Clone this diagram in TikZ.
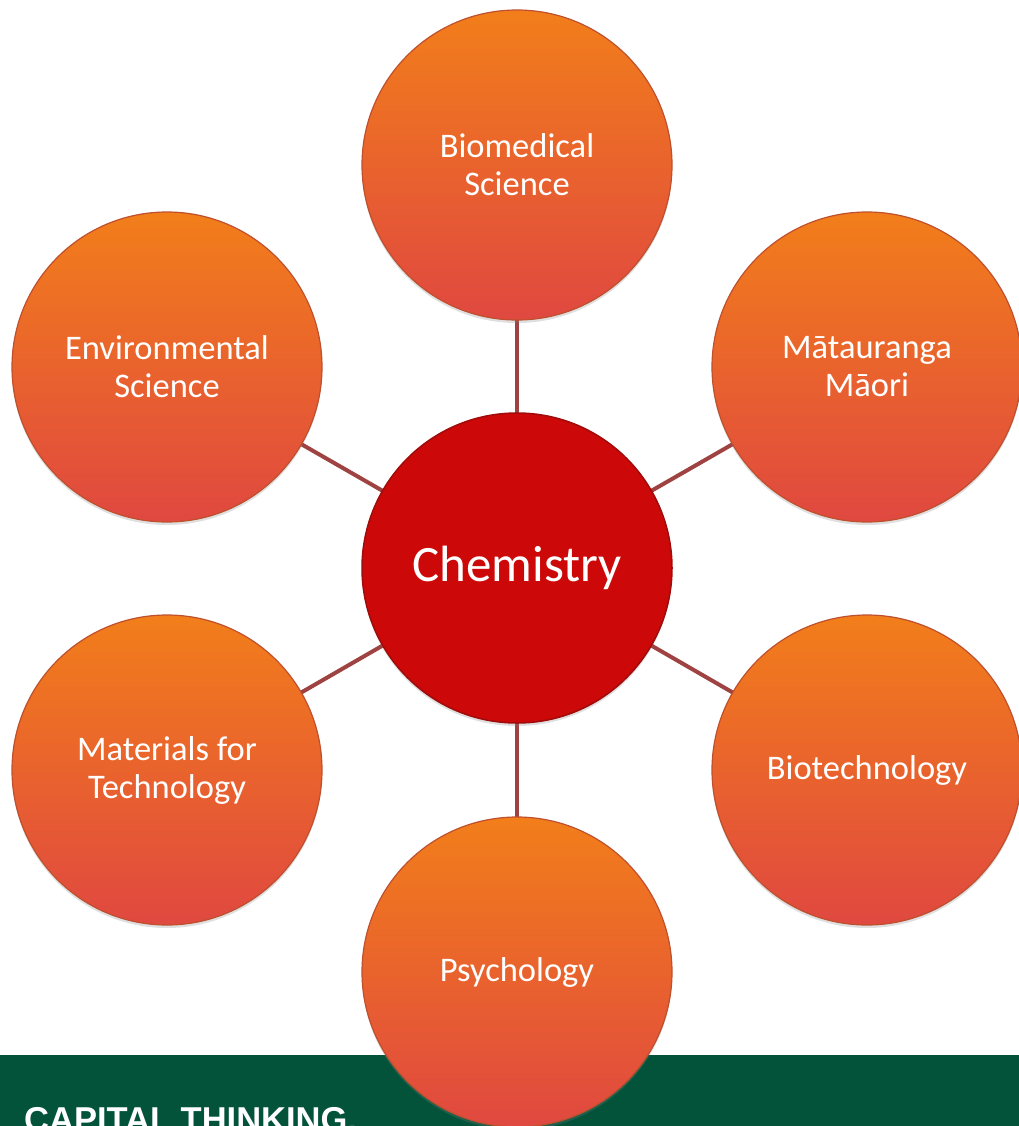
\documentclass[tikz,border=0pt]{standalone}
\usepackage{fontspec}
\setmainfont{Carlito}
\newfontfamily\bandfont{Liberation Sans}
\usetikzlibrary{shadows}
\definecolor{topic top}{RGB}{242,126,26}
\definecolor{topic bottom}{RGB}{224,72,64}
\definecolor{topic rim}{RGB}{190,80,46}
\definecolor{core fill}{RGB}{204,8,8}
\definecolor{core rim}{RGB}{160,12,12}
\definecolor{link}{RGB}{158,66,66}
\definecolor{band}{RGB}{2,83,58}
\tikzset{
  topic/.style={circle, minimum size=310pt, inner sep=0pt,
    top color=topic top, bottom color=topic bottom,
    draw=topic rim, line width=1.2pt,
    drop shadow={opacity=0.25, shadow xshift=0pt, shadow yshift=-3pt},
    text=white, align=center, font=\fontsize{34.5}{38}\selectfont},
  core/.style={circle, minimum size=310pt, inner sep=0pt,
    fill=core fill, draw=core rim, line width=1.5pt,
    drop shadow={opacity=0.25, shadow xshift=0pt, shadow yshift=-3pt},
    text=white, font=\fontsize{51}{60}\selectfont},
  linkline/.style={draw=link, line width=4pt}
}
\begin{document}
\begin{tikzpicture}[x=1pt, y=-1pt]
\useasboundingbox (0,0) rectangle (1019,1126);
% footer band with the slogan
\fill[band] (0,1055) rectangle (1019,1126);
\node[anchor=base west, inner sep=0pt, text=white,
  font=\bandfont\bfseries\fontsize{34.5}{40}\selectfont] (slogan) at (24,1131) {CAPITAL THINKING.};
% hub and spokes
\coordinate (c)  at (517,568);
\coordinate (p1) at (517,165);
\coordinate (p2) at (867,367);
\coordinate (p3) at (867,770);
\coordinate (p4) at (517,972);
\coordinate (p5) at (167,770);
\coordinate (p6) at (167,367);
\foreach \p in {p1,p2,p3,p4,p5,p6}
  \draw[linkline] (c) -- (\p);
\node[topic] (bio)  at (p1) {Biomedical\\Science};
\node[topic] (mat)  at (p2) {Mātauranga\\Māori};
\node[topic] (btec) at (p3) {Biotechnology};
\node[topic] (psy)  at (p4) {Psychology};
\node[topic] (mtec) at (p5) {Materials for\\Technology};
\node[topic] (env)  at (p6) {Environmental\\Science};
\node[core] (chem) at (c) {Chemistry};
\end{tikzpicture}
\end{document}
